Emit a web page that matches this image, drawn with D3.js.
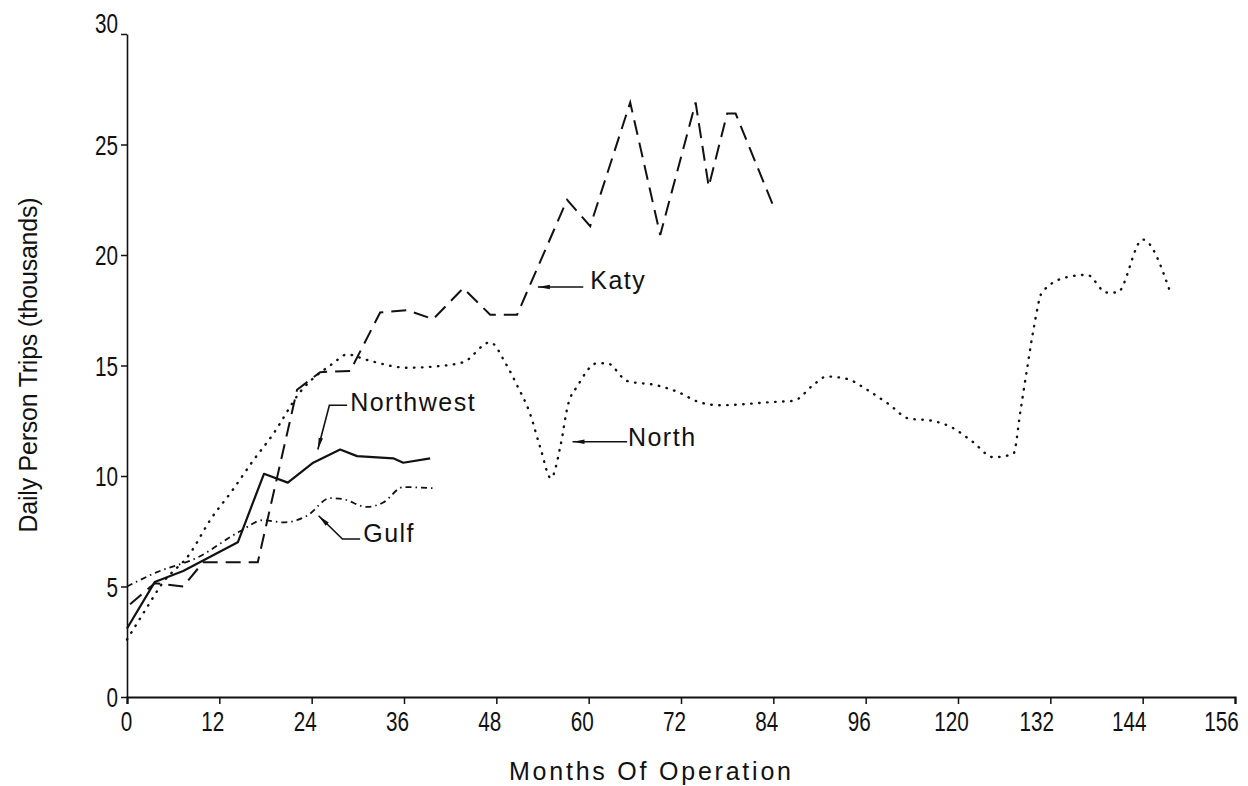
<!DOCTYPE html>
<html>
<head>
<title>Daily Person Trips</title>
<script src="https://d3js.org/d3.v7.min.js"></script>
<style>
  body { margin: 0; background: #fff; }
  svg text { fill: #111; }
  .tick-label { font-family: "Liberation Sans", Arial, sans-serif; font-size: 28px; }
  .series-label { font-family: "Liberation Sans", Arial, sans-serif; font-size: 25px; letter-spacing: 1.5px; }
  .axis-title { font-family: "Liberation Sans", Arial, sans-serif; font-size: 25px; }
</style>
</head>
<body>
<svg id="chart" width="1248" height="786"></svg>
<script>
// x tick labels as printed (the original axis skips 108, so the ticks are evenly spaced positions)
var xTickLabels = ["0", "12", "24", "36", "48", "60", "72", "84", "96", "120", "132", "144", "156"];
var yTicks = [0, 5, 10, 15, 20, 25, 30];

// Northwest (solid)
var nwMonths = [0, 3.6, 7.3, 14.4, 17.8, 20.9, 24.2, 27.7, 29.9, 34.6, 35.9, 39.4];
var nwTrips  = [3.1, 5.2, 5.7, 7.0, 10.1, 9.7, 10.6, 11.2, 10.9, 10.8, 10.6, 10.8];

// Gulf (dash-dot)
var gulfMonths = [0, 3.9, 9.1, 14.7, 17.7, 20.3, 23.4, 26.4, 28.1, 31.2, 33.3, 35.9, 39.7];
var gulfTrips  = [5.0, 5.65, 6.3, 7.5, 8.0, 7.9, 8.2, 9.0, 8.95, 8.6, 8.8, 9.5, 9.45];

// Katy (long dash)
var katyMonths = [0.4, 3.6, 7.3, 9.9, 17.0, 22.1, 25.1, 29.0, 32.9, 36.4, 39.8, 43.7, 47.2, 50.7, 57.2, 60.2, 65.4, 69.3, 73.9, 75.6, 78.0, 79.1, 83.9];
var katyTrips  = [4.2, 5.15, 5.0, 6.1, 6.1, 13.9, 14.7, 14.75, 17.4, 17.5, 17.1, 18.5, 17.3, 17.3, 22.5, 21.3, 26.9, 20.9, 26.9, 23.1, 26.4, 26.4, 22.3];

// North (dotted)
var northMonths = [0, 2.5, 4.5, 8.2, 10.8, 13.8, 16.4, 19, 22.5, 26.8, 28.6, 31.2, 36.4, 39.8, 43.7, 47.2, 49.2, 50.7, 52.4, 53.7, 55.1, 56.3, 57.3, 58.6, 61.1, 62.4, 65, 68.9, 71.6, 74.3, 77.1, 84, 86.6, 89.3, 90.9, 93.5, 96.2, 99, 101.6, 104.6, 107.2, 109.9, 112.6, 115.2, 116.1, 117, 117.9, 118.9, 122.2, 124.8, 127.3, 128.7, 132, 135.6];
var northTrips  = [2.6, 4.0, 5.1, 6.5, 8.0, 9.4, 10.7, 11.9, 13.8, 15.1, 15.5, 15.25, 14.9, 14.95, 15.15, 16.05, 15.1, 14.1, 12.8, 11.3, 9.9, 11.3, 13.2, 14.1, 15.1, 15.1, 14.3, 14.1, 13.8, 13.35, 13.2, 13.35, 13.4, 14.15, 14.5, 14.4, 13.9, 13.25, 12.6, 12.5, 12.2, 11.55, 10.85, 11.0, 12.9, 14.9, 16.8, 18.3, 19.0, 19.1, 18.3, 18.3, 20.7, 18.3];

// labels with arrows, in data units: [month, trips]
var labelNames = ["Katy", "North", "Northwest", "Gulf"];
var labelAt = [[60.2, 18.45], [65.1, 11.35], [29.0, 12.95], [30.7, 7.0]];
var arrowPaths = [
  [[59.3, 18.55], [53.4, 18.55]],
  [[65.0, 11.55], [57.9, 11.55]],
  [[28.6, 13.2], [26.3, 13.2], [24.8, 11.2]],
  [[30.3, 7.15], [28.0, 7.15], [24.9, 8.2]]
];

var svg = d3.select("#chart");
var x = d3.scaleLinear().domain([0, 144]).range([127, 1235]);
var y = d3.scaleLinear().domain([0, 30]).range([697, 34]);
var narrow = 0.74; // the printed digits are tall and narrow

// axes
var xAxis = d3.axisBottom(x)
  .tickValues(d3.range(0, 145, 12))
  .tickSize(7)
  .tickFormat(function(d, i) { return xTickLabels[i]; });
var gx = svg.append("g").attr("transform", "translate(0,697)").call(xAxis);
gx.select(".domain").attr("stroke", "#111").attr("stroke-width", 2.2);
gx.selectAll(".tick line").attr("stroke", "#111").attr("stroke-width", 1.5);
gx.selectAll(".tick text").attr("class", "tick-label").attr("font-size", null).attr("font-family", null)
  .attr("y", 14).attr("dy", "0.71em")
  .attr("x", function(d) { return (d === 0 ? -1 : (d >= 120 ? -14 : -7)) / narrow; })
  .attr("transform", "scale(" + narrow + ",1)");

var yAxis = d3.axisLeft(y).tickValues(yTicks).tickSize(6).tickSizeOuter(0);
var gy = svg.append("g").attr("transform", "translate(127,0)").call(yAxis);
gy.select(".domain").attr("stroke", "#111").attr("stroke-width", 1.6);
gy.selectAll(".tick line").attr("stroke", "#111").attr("stroke-width", 1.5);
gy.selectAll(".tick text").attr("class", "tick-label").attr("font-size", null).attr("font-family", null)
  .attr("x", -9 / narrow)
  .attr("dy", function(d) { return d === 30 ? "-0.05em" : "0.35em"; })
  .attr("transform", "scale(" + narrow + ",1)");

svg.append("text").attr("class", "axis-title")
  .attr("x", 650).attr("y", 780).attr("text-anchor", "middle")
  .attr("textLength", 282).attr("lengthAdjust", "spacing")
  .text("Months Of Operation");

svg.append("text").attr("class", "axis-title")
  .attr("transform", "translate(37,365) rotate(-90)").attr("text-anchor", "middle")
  .attr("textLength", 335).attr("lengthAdjust", "spacing")
  .text("Daily Person Trips (thousands)");

// series
function pts(ms, vs) { return ms.map(function(m, i) { return [m, vs[i]]; }); }
var straight = d3.line().x(function(d) { return x(d[0]); }).y(function(d) { return y(d[1]); });
var smooth = d3.line().x(function(d) { return x(d[0]); }).y(function(d) { return y(d[1]); }).curve(d3.curveMonotoneX);

svg.append("path").attr("d", smooth(pts(northMonths, northTrips)))
  .attr("fill", "none").attr("stroke", "#111").attr("stroke-width", 2.4)
  .attr("stroke-linecap", "round").attr("stroke-dasharray", "0.5,7.5");

svg.append("path").attr("d", smooth(pts(gulfMonths, gulfTrips)))
  .attr("fill", "none").attr("stroke", "#111").attr("stroke-width", 1.8)
  .attr("stroke-dasharray", "6,4,1.5,4");

svg.append("path").attr("d", straight(pts(katyMonths, katyTrips)))
  .attr("fill", "none").attr("stroke", "#111").attr("stroke-width", 2)
  .attr("stroke-dasharray", "15,8");

svg.append("path").attr("d", straight(pts(nwMonths, nwTrips)))
  .attr("fill", "none").attr("stroke", "#111").attr("stroke-width", 2.2)
  .attr("stroke-linejoin", "round");

// labels and arrows
svg.append("defs").append("marker")
  .attr("id", "head").attr("viewBox", "0 0 12 6")
  .attr("refX", 12).attr("refY", 3)
  .attr("markerWidth", 12).attr("markerHeight", 6)
  .attr("markerUnits", "userSpaceOnUse").attr("orient", "auto")
  .append("path").attr("d", "M0,0.8 L12,3 L0,5.2 Z").attr("fill", "#111");

arrowPaths.forEach(function(p) {
  svg.append("path").attr("d", straight(p))
    .attr("fill", "none").attr("stroke", "#111").attr("stroke-width", 1.6)
    .attr("marker-end", "url(#head)");
});

labelNames.forEach(function(name, i) {
  svg.append("text").attr("class", "series-label")
    .attr("x", x(labelAt[i][0])).attr("y", y(labelAt[i][1]))
    .text(name);
});
</script>
</body>
</html>
